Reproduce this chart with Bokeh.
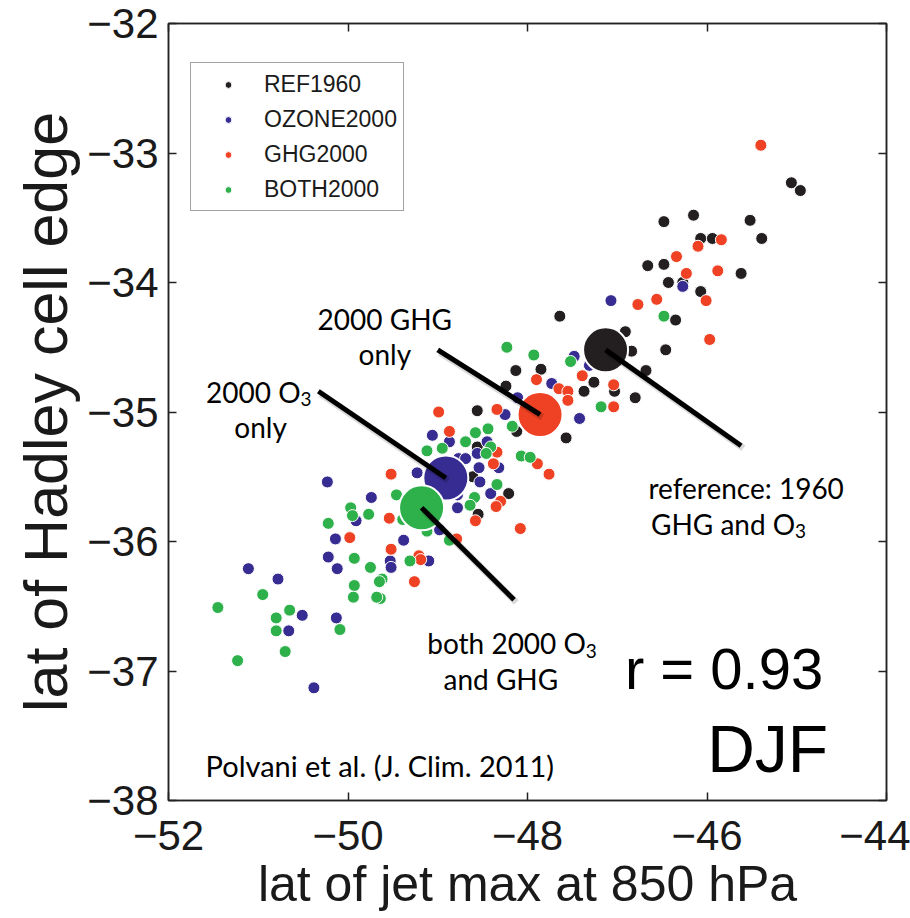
from bokeh.plotting import figure
from bokeh.models import LinearAxis, Range1d, Legend, LegendItem, Label, FixedTicker
from bokeh.embed import file_html
from bokeh.resources import INLINE

# ---------------- data ----------------
ref_x = [-45.06, -44.96, -46.48, -46.15, -45.52, -45.39, -46.07, -45.94, -46.66, -46.48,
         -45.62, -46.43, -46.27, -46.07, -46.35, -47.64, -46.91, -46.84, -46.46, -46.68,
         -46.80, -48.13, -47.85, -47.26, -47.37, -47.03, -48.24, -47.57, -48.56, -48.12,
         -48.56, -48.61, -48.21, -48.55]
ref_y = [-33.23, -33.29, -33.53, -33.48, -33.52, -33.66, -33.66, -33.66, -33.87, -33.86,
         -33.93, -34.00, -34.00, -34.07, -34.29, -34.26, -34.38, -34.53, -34.52, -34.68,
         -34.89, -34.68, -34.67, -34.77, -34.84, -34.84, -34.80, -35.20, -34.99, -35.15,
         -35.27, -35.50, -35.63, -35.79]

oz_x = [-46.27, -47.07, -47.48, -47.31, -47.73, -48.25, -47.42, -48.11, -49.06, -48.87,
        -48.45, -48.77, -48.69, -48.56, -48.32, -49.23, -48.54, -48.53, -48.41, -48.78,
        -48.78, -48.98, -49.38, -49.53, -49.52, -49.10, -50.23, -49.74, -49.91, -50.14,
        -50.22, -50.12, -51.11, -50.78, -50.51, -50.13, -50.66, -50.38]
oz_y = [-34.03, -34.14, -34.57, -34.64, -34.78, -35.02, -35.05, -34.89, -35.18, -35.23,
        -35.23, -35.36, -35.36, -35.32, -35.43, -35.47, -35.43, -35.54, -35.63, -35.64,
        -35.74, -35.91, -35.99, -36.15, -36.20, -36.15, -35.54, -35.66, -35.84, -35.98,
        -36.12, -36.21, -36.21, -36.29, -36.57, -36.59, -36.69, -37.13]

ghg_x = [-45.40, -45.84, -46.10, -46.34, -46.23, -45.88, -46.56, -46.77, -46.01, -45.97,
         -47.90, -47.65, -47.55, -47.55, -47.39, -47.04, -47.04, -48.99, -48.34, -48.87,
         -48.34, -47.89, -48.38, -47.76, -49.52, -48.30, -48.35, -49.54, -48.58, -48.08,
         -48.79, -49.52, -49.21, -49.19, -49.26, -49.98]
ghg_y = [-32.94, -33.67, -33.72, -33.80, -33.93, -33.91, -34.13, -34.17, -34.14, -34.44,
         -34.75, -34.82, -34.84, -34.91, -34.72, -34.79, -34.96, -35.00, -34.98, -35.15,
         -35.31, -35.40, -35.40, -35.48, -35.48, -35.69, -35.73, -35.82, -35.84, -35.90,
         -35.98, -36.06, -36.11, -36.14, -36.31, -35.97]

both_x = [-46.48, -48.23, -47.93, -47.52, -47.18, -48.17, -48.95, -49.12, -48.69, -48.58,
          -48.44, -48.41, -48.46, -48.07, -47.97, -48.34, -48.59, -48.64, -49.46, -49.39,
          -49.12, -48.87, -49.31, -49.62, -49.64, -49.97, -49.95, -49.77, -50.22, -49.93,
          -49.75, -49.65, -49.93, -49.94, -49.68, -50.95, -51.45, -50.65, -50.80, -50.80,
          -50.09, -50.70, -51.23]
both_y = [-34.26, -34.50, -34.56, -34.61, -34.96, -35.11, -35.28, -35.30, -35.23, -35.16,
          -35.13, -35.27, -35.32, -35.34, -35.35, -35.56, -35.66, -35.72, -35.64, -35.83,
          -35.92, -35.99, -36.15, -36.29, -36.44, -35.74, -35.80, -35.79, -35.86, -36.13,
          -36.20, -36.31, -36.34, -36.43, -36.43, -36.41, -36.51, -36.53, -36.59, -36.69,
          -36.68, -36.85, -36.92]

# ensemble means: REF1960, GHG2000, OZONE2000, BOTH2000
mean_names = ["REF1960", "GHG2000", "OZONE2000", "BOTH2000"]
mean_x = [-47.13, -47.86, -48.91, -49.18]
mean_y = [-34.52, -35.02, -35.51, -35.74]

# call-out line far ends (same order as means)
callout_x = [-45.62, -49.00, -50.33, -48.15]
callout_y = [-35.26, -34.52, -34.84, -36.45]

x_ticks = [-52, -50, -48, -46, -44]
y_ticks = [-38, -37, -36, -35, -34, -33, -32]
x_tick_labels = ["\u221252", "\u221250", "\u221248", "\u221246", "\u221244"]
y_tick_labels = ["\u221238", "\u221237", "\u221236", "\u221235", "\u221234", "\u221233", "\u221232"]

series_names = ["REF1960", "OZONE2000", "GHG2000", "BOTH2000"]
C_BLACK = "#231f20"
C_BLUE = "#372c91"
C_RED = "#ef4123"
C_GREEN = "#2eb04b"

# ---------------- figure ----------------
p = figure(width=910, height=918, x_range=Range1d(-52, -44), y_range=Range1d(-38, -32),
           output_backend="svg", toolbar_location=None,
           min_border_left=168, min_border_right=24, min_border_top=23, min_border_bottom=118)
p.xgrid.visible = False
p.ygrid.visible = False
p.background_fill_color = "white"
p.border_fill_color = "white"
p.outline_line_color = "#222222"
p.outline_line_width = 1.5

AX_FONT = "Liberation Sans"

def style_axis(ax, ticks, labels, show_labels):
    ax.ticker = FixedTicker(ticks=ticks)
    ax.major_label_overrides = {t: l for t, l in zip(ticks, labels)}
    ax.minor_tick_line_color = None
    ax.major_tick_in = 8
    ax.major_tick_out = 0
    ax.major_tick_line_width = 1.5
    ax.major_tick_line_color = "#222222"
    ax.axis_line_color = "#222222"
    ax.axis_line_width = 1.5
    if show_labels:
        ax.major_label_text_font = AX_FONT
        ax.major_label_text_font_size = "42px"
        ax.major_label_text_color = "#1a1a1a"
    else:
        ax.major_label_text_font_size = "0px"
        ax.major_label_text_color = None

xa = p.xaxis[0]
ya = p.yaxis[0]
style_axis(xa, x_ticks, x_tick_labels, True)
style_axis(ya, y_ticks, y_tick_labels, True)
xa.major_label_standoff = 20
ya.major_label_standoff = 10
xa.axis_label = "lat of jet max at 850 hPa"
ya.axis_label = "lat of Hadley cell edge"
for ax in (xa, ya):
    ax.axis_label_text_font = AX_FONT
    ax.axis_label_text_font_style = "normal"
    ax.axis_label_text_color = "#1a1a1a"
xa.axis_label_text_font_size = "50px"
ya.axis_label_text_font_size = "61px"
xa.axis_label_standoff = 3
ya.axis_label_standoff = 4

top_ax = LinearAxis()
right_ax = LinearAxis()
style_axis(top_ax, x_ticks, x_tick_labels, False)
style_axis(right_ax, y_ticks, y_tick_labels, False)
p.add_layout(top_ax, "above")
p.add_layout(right_ax, "right")

# ---------------- points ----------------
DOT = 12
r_ref = p.scatter(ref_x, ref_y, size=DOT, color=C_BLACK, line_color="white", line_width=1)
r_oz = p.scatter(oz_x, oz_y, size=DOT, color=C_BLUE, line_color="white", line_width=1)
r_ghg = p.scatter(ghg_x, ghg_y, size=DOT, color=C_RED, line_color="white", line_width=1)
r_both = p.scatter(both_x, both_y, size=DOT, color=C_GREEN, line_color="white", line_width=1)

mean_colors = [C_BLACK, C_RED, C_BLUE, C_GREEN]
for mx, my, mc in zip(mean_x, mean_y, mean_colors):
    p.scatter([mx], [my], size=45, color=mc, line_color="white", line_width=2)

# call-out lines from each ensemble mean (soft shadow, then line)
p.segment(x0=[x + 0.025 for x in mean_x], y0=[y - 0.02 for y in mean_y],
          x1=[x + 0.025 for x in callout_x], y1=[y - 0.02 for y in callout_y],
          line_color="#000000", line_alpha=0.15, line_width=7)
p.segment(x0=mean_x, y0=mean_y, x1=callout_x, y1=callout_y,
          line_color="#000000", line_width=5)

# ---------------- legend ----------------
legend = Legend(items=[LegendItem(label=n, renderers=[r]) for n, r in
                       zip(series_names, [r_ref, r_oz, r_ghg, r_both])],
                location=(22, 589))
legend.label_text_font = AX_FONT
legend.label_text_font_size = "23px"
legend.label_text_color = "#1a1a1a"
legend.glyph_width = 62
legend.glyph_height = 17
legend.label_height = 30
legend.label_standoff = 5
legend.spacing = 5
legend.padding = 6
legend.margin = 0
legend.border_line_color = "#444444"
legend.border_line_width = 1
legend.background_fill_alpha = 1.0
p.add_layout(legend, "center")

# ---------------- annotation texts ----------------
ANN = "Lato"
ANN_SIZE = "28px"
SUB_SIZE = "19px"

def lab(x, y, text, align="center", size=ANN_SIZE, font=ANN):
    p.add_layout(Label(x=x, y=y, text=text, text_align=align, text_baseline="alphabetic",
                       text_font=font, text_font_size=size, text_color="#000000"))

lab(-49.59, -34.28, "2000 GHG")
lab(-49.59, -34.55, "only")

lab(-50.528, -34.843, "2000 O", align="right")
lab(-50.530, -34.897, "3", align="left", size=SUB_SIZE)
lab(-50.974, -35.113, "only")

lab(-45.564, -35.590, "reference: 1960")
lab(-45.017, -35.867, "GHG and O", align="right")
lab(-45.019, -35.921, "3", align="left", size=SUB_SIZE)

lab(-47.349, -36.784, "both 2000 O", align="right")
lab(-47.351, -36.846, "3", align="left", size=SUB_SIZE)
lab(-48.297, -37.062, "and GHG")

lab(-51.587, -37.732, "Polvani et al. (J. Clim. 2011)", align="left", size="29px")

lab(-44.705, -36.977, "r = 0.93", align="right", size="58px", font=AX_FONT)
lab(-44.65, -37.60, "DJF", align="right", size="66px", font=AX_FONT)

open("out.html", "w").write(file_html(p, INLINE))
